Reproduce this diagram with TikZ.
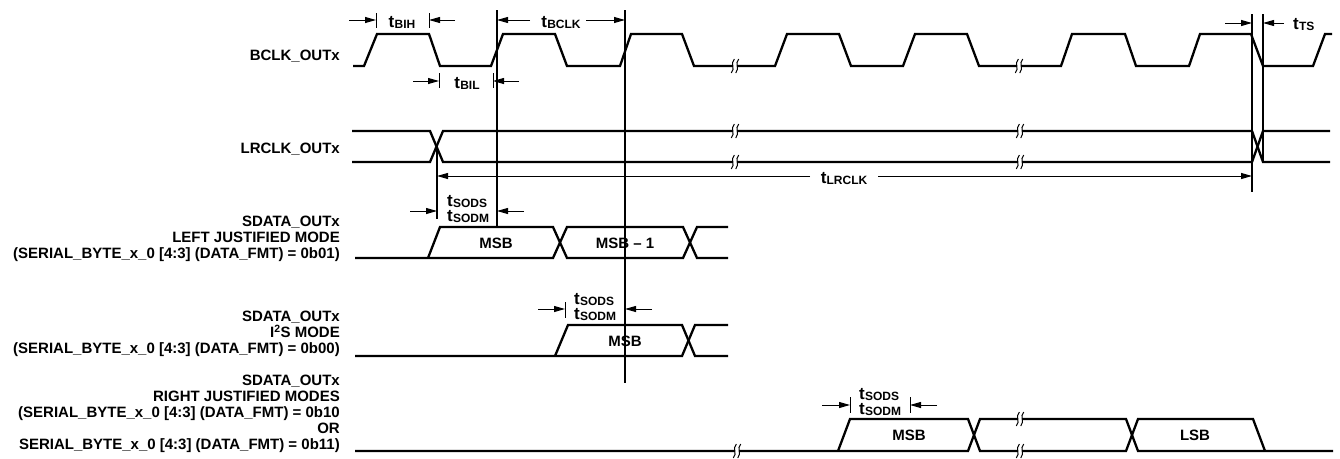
\documentclass[tikz,border=0pt]{standalone}
\usepackage{fontspec}
\setmainfont{Liberation Sans}
\usetikzlibrary{arrows.meta}
\newcommand{\tsb}[1]{t\kern0.2pt\raisebox{-1.5pt}{\fontsize{12}{12}\selectfont #1}}
\tikzset{
  wave/.style={line width=2.3pt, line join=miter},
  vln/.style={line width=1.8pt},
  thinv/.style={line width=1.2pt},
  tk/.style={line width=1pt},
  dimarrow/.style={line width=1pt, -{Triangle[length=11pt,width=6pt]}},
  lbl/.style={font=\fontsize{15}{16}\selectfont\bfseries, align=right, anchor=east, inner sep=0pt},
  tlab/.style={font=\fontsize{17}{17}\selectfont\bfseries, inner sep=0pt},
  cell/.style={font=\fontsize{15}{16}\selectfont\bfseries, inner sep=0pt},
  brk/.pic={
    \fill[white] (-2.4,-3.8) rectangle (2.4,3.8);
    \draw[line width=1pt] (-0.7,-7) .. controls (-5.2,-2) and (0.8,2) .. (-3.7,7);
    \draw[line width=1pt] (3.7,-7) .. controls (-0.8,-2) and (5.2,2) .. (0.7,7);
  }
}
\begin{document}
\begin{tikzpicture}[x=1pt,y=-1pt]
\fill[white] (0,0) rectangle (1340,458);
\useasboundingbox (0,0) rectangle (1340,458);

% ---------- signal labels ----------
\node[lbl] (lbclk) at (340,56) {BCLK\_OUTx};
\node[lbl] (llrclk) at (340,149) {LRCLK\_OUTx};
\node[lbl] (llj) at (340,239) {SDATA\_OUTx\\LEFT JUSTIFIED MODE\\(SERIAL\_BYTE\_x\_0 [4:3] (DATA\_FMT) = 0b01)};
\node[lbl] (li2s) at (340,334) {SDATA\_OUTx\\I\textsuperscript{2}S MODE\\(SERIAL\_BYTE\_x\_0 [4:3] (DATA\_FMT) = 0b00)};
\node[lbl] (lrj) at (340,414) {SDATA\_OUTx\\RIGHT JUSTIFIED MODES\\(SERIAL\_BYTE\_x\_0 [4:3] (DATA\_FMT) = 0b10\\OR\\SERIAL\_BYTE\_x\_0 [4:3] (DATA\_FMT) = 0b11)};

% ---------- BCLK ----------
\draw[wave] (353,66) -- (364,66) -- (377,34) -- (429,34) -- (440,66) -- (491,66) -- (503,34)
  -- (555,34) -- (567,66) -- (620,66) -- (631,34) -- (682,34) -- (694,66) -- (775,66)
  -- (787,34) -- (839,34) -- (851,66) -- (903,66) -- (915,34) -- (967,34) -- (979,66)
  -- (1061,66) -- (1072,34) -- (1125,34) -- (1136,66) -- (1189,66) -- (1200,34)
  -- (1251,34) -- (1263,66) -- (1313,66) -- (1325,34) -- (1332,34);
\pic at (735,66) {brk};
\pic at (1019,66) {brk};

% ---------- LRCLK ----------
\draw[wave] (352,131) -- (430,131) -- (443,162) -- (1252,162) -- (1263,131) -- (1330,131);
\draw[wave] (352,162) -- (430,162) -- (443,131) -- (1252,131) -- (1263,162) -- (1330,162);
\pic at (735,131) {brk};
\pic at (735,162) {brk};
\pic at (1020,131) {brk};
\pic at (1020,162) {brk};

% ---------- SDATA left justified ----------
\draw[wave] (355,258) -- (553,258) -- (567,227) -- (683,227) -- (697,258) -- (728,258);
\draw[wave] (428,258) -- (440,227) -- (553,227) -- (567,258) -- (683,258) -- (697,227) -- (728,227);
\node[cell] (mlj) at (496,243) {MSB};
\node[cell] (m1lj) at (625,243) {MSB – 1};

% ---------- SDATA I2S ----------
\draw[wave] (355,356) -- (682,356) -- (695,325) -- (728,325);
\draw[wave] (555,356) -- (568,325) -- (682,325) -- (695,356) -- (728,356);
\node[cell] (mi2s) at (625,341) {MSB};

% ---------- SDATA right justified ----------
\draw[wave] (355,451) -- (968,451) -- (980,419) -- (1126,419) -- (1138,451) -- (1333,451);
\draw[wave] (838,451) -- (850,419) -- (968,419) -- (980,451) -- (1126,451) -- (1138,419) -- (1253,419) -- (1265,451);
\pic at (737,451) {brk};
\pic at (1020,419) {brk};
\pic at (1020,451) {brk};
\node[cell] (mrj) at (909,435) {MSB};
\node[cell] (lrjb) at (1195,435) {LSB};

% ---------- long reference lines ----------
\coordinate (v1t) at (497,10);  \coordinate (v1b) at (497,227);
\coordinate (v2t) at (625,10);  \coordinate (v2b) at (625,383);
\coordinate (v3t) at (1252,14); \coordinate (v3b) at (1252,192);
\coordinate (v4t) at (1263,14); \coordinate (v4b) at (1263,163);
\coordinate (v0t) at (437,147); \coordinate (v0b) at (437,219);
\draw[vln] (v1t) -- (v1b);
\draw[vln] (v2t) -- (v2b);
\draw[vln] (v3t) -- (v3b);
\draw[vln] (v4t) -- (v4b);
\draw[thinv] (v0t) -- (v0b);

% ---------- tBIH ----------
\draw[tk] (376,13) -- (376,28);
\draw[tk] (429,13) -- (429,28);
\coordinate (bih1) at (349,20); \coordinate (bih2) at (455,20);
\draw[dimarrow] (bih1) -- (376,20);
\draw[dimarrow] (bih2) -- (429,20);
\node[tlab, anchor=base] (tbih) at (402,27) {\tsb{BIH}};

% ---------- tBIL ----------
\draw[tk] (439,73) -- (439,88);
\draw[tk] (493,73) -- (493,88);
\coordinate (bil1) at (413,81); \coordinate (bil2) at (519,81);
\draw[dimarrow] (bil1) -- (439,81);
\draw[dimarrow] (bil2) -- (493,81);
\node[tlab, anchor=base] (tbil) at (467,88) {\tsb{BIL}};

% ---------- tBCLK ----------
\coordinate (bc1) at (530,20); \coordinate (bc2) at (586,20);
\draw[dimarrow] (bc1) -- (497,20);
\draw[dimarrow] (bc2) -- (625,20);
\node[tlab, anchor=base] (tbclk) at (561,27) {\tsb{BCLK}};

% ---------- tTS ----------
\coordinate (ts1) at (1225,23); \coordinate (ts2) at (1284,23);
\draw[dimarrow] (ts1) -- (1252,23);
\draw[dimarrow] (ts2) -- (1263,23);
\node[tlab, anchor=base west] (tts) at (1293,29) {\tsb{TS}};

% ---------- tLRCLK ----------
\coordinate (lr1) at (810,176); \coordinate (lr2) at (878,176);
\draw[dimarrow] (lr1) -- (437,176);
\draw[dimarrow] (lr2) -- (1252,176);
\node[tlab, anchor=base] (tlrclk) at (844,183) {\tsb{LRCLK}};

% ---------- tSODS / tSODM (left justified) ----------
\coordinate (s1a) at (410,211); \coordinate (s1b) at (524,211);
\draw[dimarrow] (s1a) -- (437,211);
\draw[dimarrow] (s1b) -- (497,211);
\node[tlab, anchor=base west] (sods1) at (447,206) {\tsb{SODS}};
\node[tlab, anchor=base west] (sodm1) at (447,221) {\tsb{SODM}};

% ---------- tSODS / tSODM (I2S) ----------
\draw[tk] (565,302) -- (565,318);
\coordinate (s2a) at (538,309); \coordinate (s2b) at (652,309);
\draw[dimarrow] (s2a) -- (565,309);
\draw[dimarrow] (s2b) -- (625,309);
\node[tlab, anchor=base west] (sods2) at (574,304) {\tsb{SODS}};
\node[tlab, anchor=base west] (sodm2) at (574,319) {\tsb{SODM}};

% ---------- tSODS / tSODM (right justified) ----------
\draw[tk] (850,397) -- (850,413);
\draw[tk] (910,397) -- (910,413);
\coordinate (s3a) at (822,405); \coordinate (s3b) at (937,405);
\draw[dimarrow] (s3a) -- (850,405);
\draw[dimarrow] (s3b) -- (910,405);
\node[tlab, anchor=base west] (sods3) at (859,399) {\tsb{SODS}};
\node[tlab, anchor=base west] (sodm3) at (859,414) {\tsb{SODM}};
\end{tikzpicture}
\end{document}
